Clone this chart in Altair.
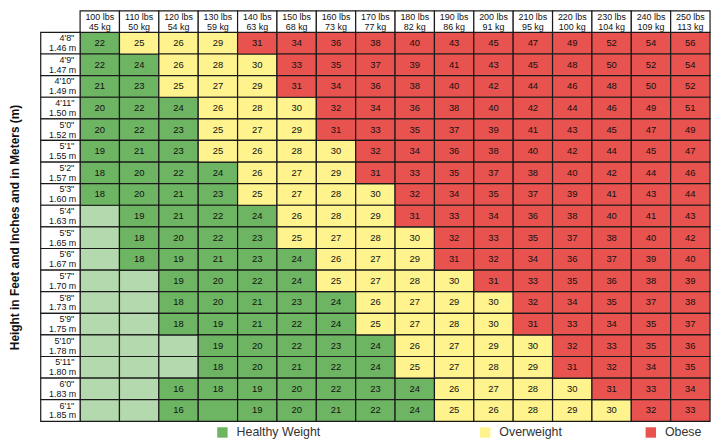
import altair as alt
import pandas as pd

lbs = [100, 110, 120, 130, 140, 150, 160, 170, 180, 190, 200, 210, 220, 230, 240, 250]
kgs = [45, 50, 54, 59, 63, 68, 73, 77, 82, 86, 91, 95, 100, 104, 109, 113]
feet = ["4'8\"", "4'9\"", "4'10\"", "4'11\"", "5'0\"", "5'1\"", "5'2\"", "5'3\"", "5'4\"",
        "5'5\"", "5'6\"", "5'7\"", "5'8\"", "5'9\"", "5'10\"", "5'11\"", "6'0\"", "6'1\""]
meters = ["1.46 m", "1.47 m", "1.49 m", "1.50 m", "1.52 m", "1.55 m", "1.57 m", "1.60 m", "1.63 m",
          "1.65 m", "1.67 m", "1.70 m", "1.73 m", "1.75 m", "1.78 m", "1.80 m", "1.83 m", "1.85 m"]
N = None
bmi = [
    [22, 25, 26, 29, 31, 34, 36, 38, 40, 43, 45, 47, 49, 52, 54, 56],
    [22, 24, 26, 28, 30, 33, 35, 37, 39, 41, 43, 45, 48, 50, 52, 54],
    [21, 23, 25, 27, 29, 31, 34, 36, 38, 40, 42, 44, 46, 48, 50, 52],
    [20, 22, 24, 26, 28, 30, 32, 34, 36, 38, 40, 42, 44, 46, 49, 51],
    [20, 22, 23, 25, 27, 29, 31, 33, 35, 37, 39, 41, 43, 45, 47, 49],
    [19, 21, 23, 25, 26, 28, 30, 32, 34, 36, 38, 40, 42, 44, 45, 47],
    [18, 20, 22, 24, 26, 27, 29, 31, 33, 35, 37, 38, 40, 42, 44, 46],
    [18, 20, 21, 23, 25, 27, 28, 30, 32, 34, 35, 37, 39, 41, 43, 44],
    [N, 19, 21, 22, 24, 26, 28, 29, 31, 33, 34, 36, 38, 40, 41, 43],
    [N, 18, 20, 22, 23, 25, 27, 28, 30, 32, 33, 35, 37, 38, 40, 42],
    [N, 18, 19, 21, 23, 24, 26, 27, 29, 31, 32, 34, 36, 37, 39, 40],
    [N, N, 19, 20, 22, 24, 25, 27, 28, 30, 31, 33, 35, 36, 38, 39],
    [N, N, 18, 20, 21, 23, 24, 26, 27, 29, 30, 32, 34, 35, 37, 38],
    [N, N, 18, 19, 21, 22, 24, 25, 27, 28, 30, 31, 33, 34, 35, 37],
    [N, N, N, 19, 20, 22, 23, 24, 26, 27, 29, 30, 32, 33, 35, 36],
    [N, N, N, 18, 20, 21, 22, 24, 25, 27, 28, 29, 31, 32, 34, 35],
    [N, N, 16, 18, 19, 20, 22, 23, 24, 26, 27, 28, 30, 31, 33, 34],
    [N, N, 16, N, 19, 20, 21, 22, 24, 25, 26, 28, 29, 30, 32, 33],
]
# blank cells that are shaded as healthy (dark green) in the reference
blank_healthy = [("6'1\"", 130)]

categories = ["Healthy Weight", "Overweight", "Obese"]
cat_colors = ["#6db562", "#fef38c", "#e9534f"]
blank_color = "#b4d9ae"

col_keys = [f"{w} lbs" for w in lbs]
x_domain = ["label"] + col_keys
y_domain = ["header"] + feet

rows = []
for i, ft in enumerate(feet):
    for j, w in enumerate(lbs):
        v = bmi[i][j]
        if v is None:
            cat = "Healthy Weight" if (ft, w) in blank_healthy else "Blank"
            txt = ""
        else:
            cat = "Healthy Weight" if v <= 24 else ("Overweight" if v <= 30 else "Obese")
            txt = str(v)
        rows.append({"col": f"{w} lbs", "row": ft, "cat": cat, "txt": txt})
cells = pd.DataFrame(rows)

hdr = pd.DataFrame({"col": col_keys, "row": ["header"] * len(lbs),
                    "l1": col_keys, "l2": [f"{k} kg" for k in kgs]})
lab = pd.DataFrame({"col": ["label"] * len(feet), "row": feet, "l1": feet, "l2": meters})
boxes = pd.concat([hdr, lab], ignore_index=True)

FONT = "Liberation Sans"
W, H = 675, 414

xenc = alt.X("col:N", scale=alt.Scale(domain=x_domain, paddingInner=0, paddingOuter=0), axis=None)
yenc = alt.Y("row:N", scale=alt.Scale(domain=y_domain, paddingInner=0, paddingOuter=0),
             axis=alt.Axis(labels=False, ticks=False, domain=False,
                           title="Height in Feet and Inches and in Meters (m)",
                           titleX=-26, titleY=218, titleAngle=270, titleAlign="center",
                           titleBaseline="middle", titleFont=FONT, titleFontSize=12,
                           titleFontWeight="bold", titleColor="#111"))

base = alt.Chart(cells).encode(x=xenc, y=yenc)
stroke = dict(stroke="#1a1a1a", strokeWidth=1.2)

blank_layer = base.transform_filter(alt.datum.cat == "Blank").mark_rect(fill=blank_color, **stroke)

legend_pos = [(177, 419), (442, 419), (609, 419)]
cat_layers = []
for c, col, (lx, ly) in zip(categories, cat_colors, legend_pos):
    cat_layers.append(
        base.transform_filter(alt.datum.cat == c).mark_rect(**stroke).encode(
            color=alt.Color("cat:N", scale=alt.Scale(domain=[c], range=[col]),
                            legend=alt.Legend(title=None, orient="none", legendX=lx, legendY=ly,
                                              symbolType="square", symbolSize=110,
                                              symbolStrokeWidth=0, symbolOpacity=1,
                                              labelFont=FONT, labelFontSize=12.5,
                                              labelColor="#333", labelOffset=8, padding=0))
        )
    )

cell_text = base.mark_text(font=FONT, fontSize=9.5, color="#111").encode(text="txt:N")

bbase = alt.Chart(boxes).encode(x=xenc, y=yenc)
box_layer = bbase.mark_rect(fill="white", **stroke)
hdr_t1 = bbase.transform_filter(alt.datum.row == "header").mark_text(
    font=FONT, fontSize=9, color="#111", dy=-5).encode(text="l1:N")
hdr_t2 = bbase.transform_filter(alt.datum.row == "header").mark_text(
    font=FONT, fontSize=9, color="#111", dy=5).encode(text="l2:N")
lab_t1 = bbase.transform_filter(alt.datum.col == "label").mark_text(
    font=FONT, fontSize=9, color="#111", dy=-5, align="right", dx=14).encode(text="l1:N")
lab_t2 = bbase.transform_filter(alt.datum.col == "label").mark_text(
    font=FONT, fontSize=9, color="#111", dy=5, align="right", dx=16).encode(text="l2:N")

chart = alt.layer(
    blank_layer, *cat_layers, box_layer, cell_text, hdr_t1, hdr_t2, lab_t1, lab_t2
).resolve_scale(color="independent").properties(
    width=W, height=H,
    autosize=alt.AutoSizeParams(type="none"),
    padding={"left": 33, "top": 1, "right": 5, "bottom": 16},
).configure_view(stroke=None)

chart.save("out.html", embed_options={"renderer": "svg", "actions": False})
